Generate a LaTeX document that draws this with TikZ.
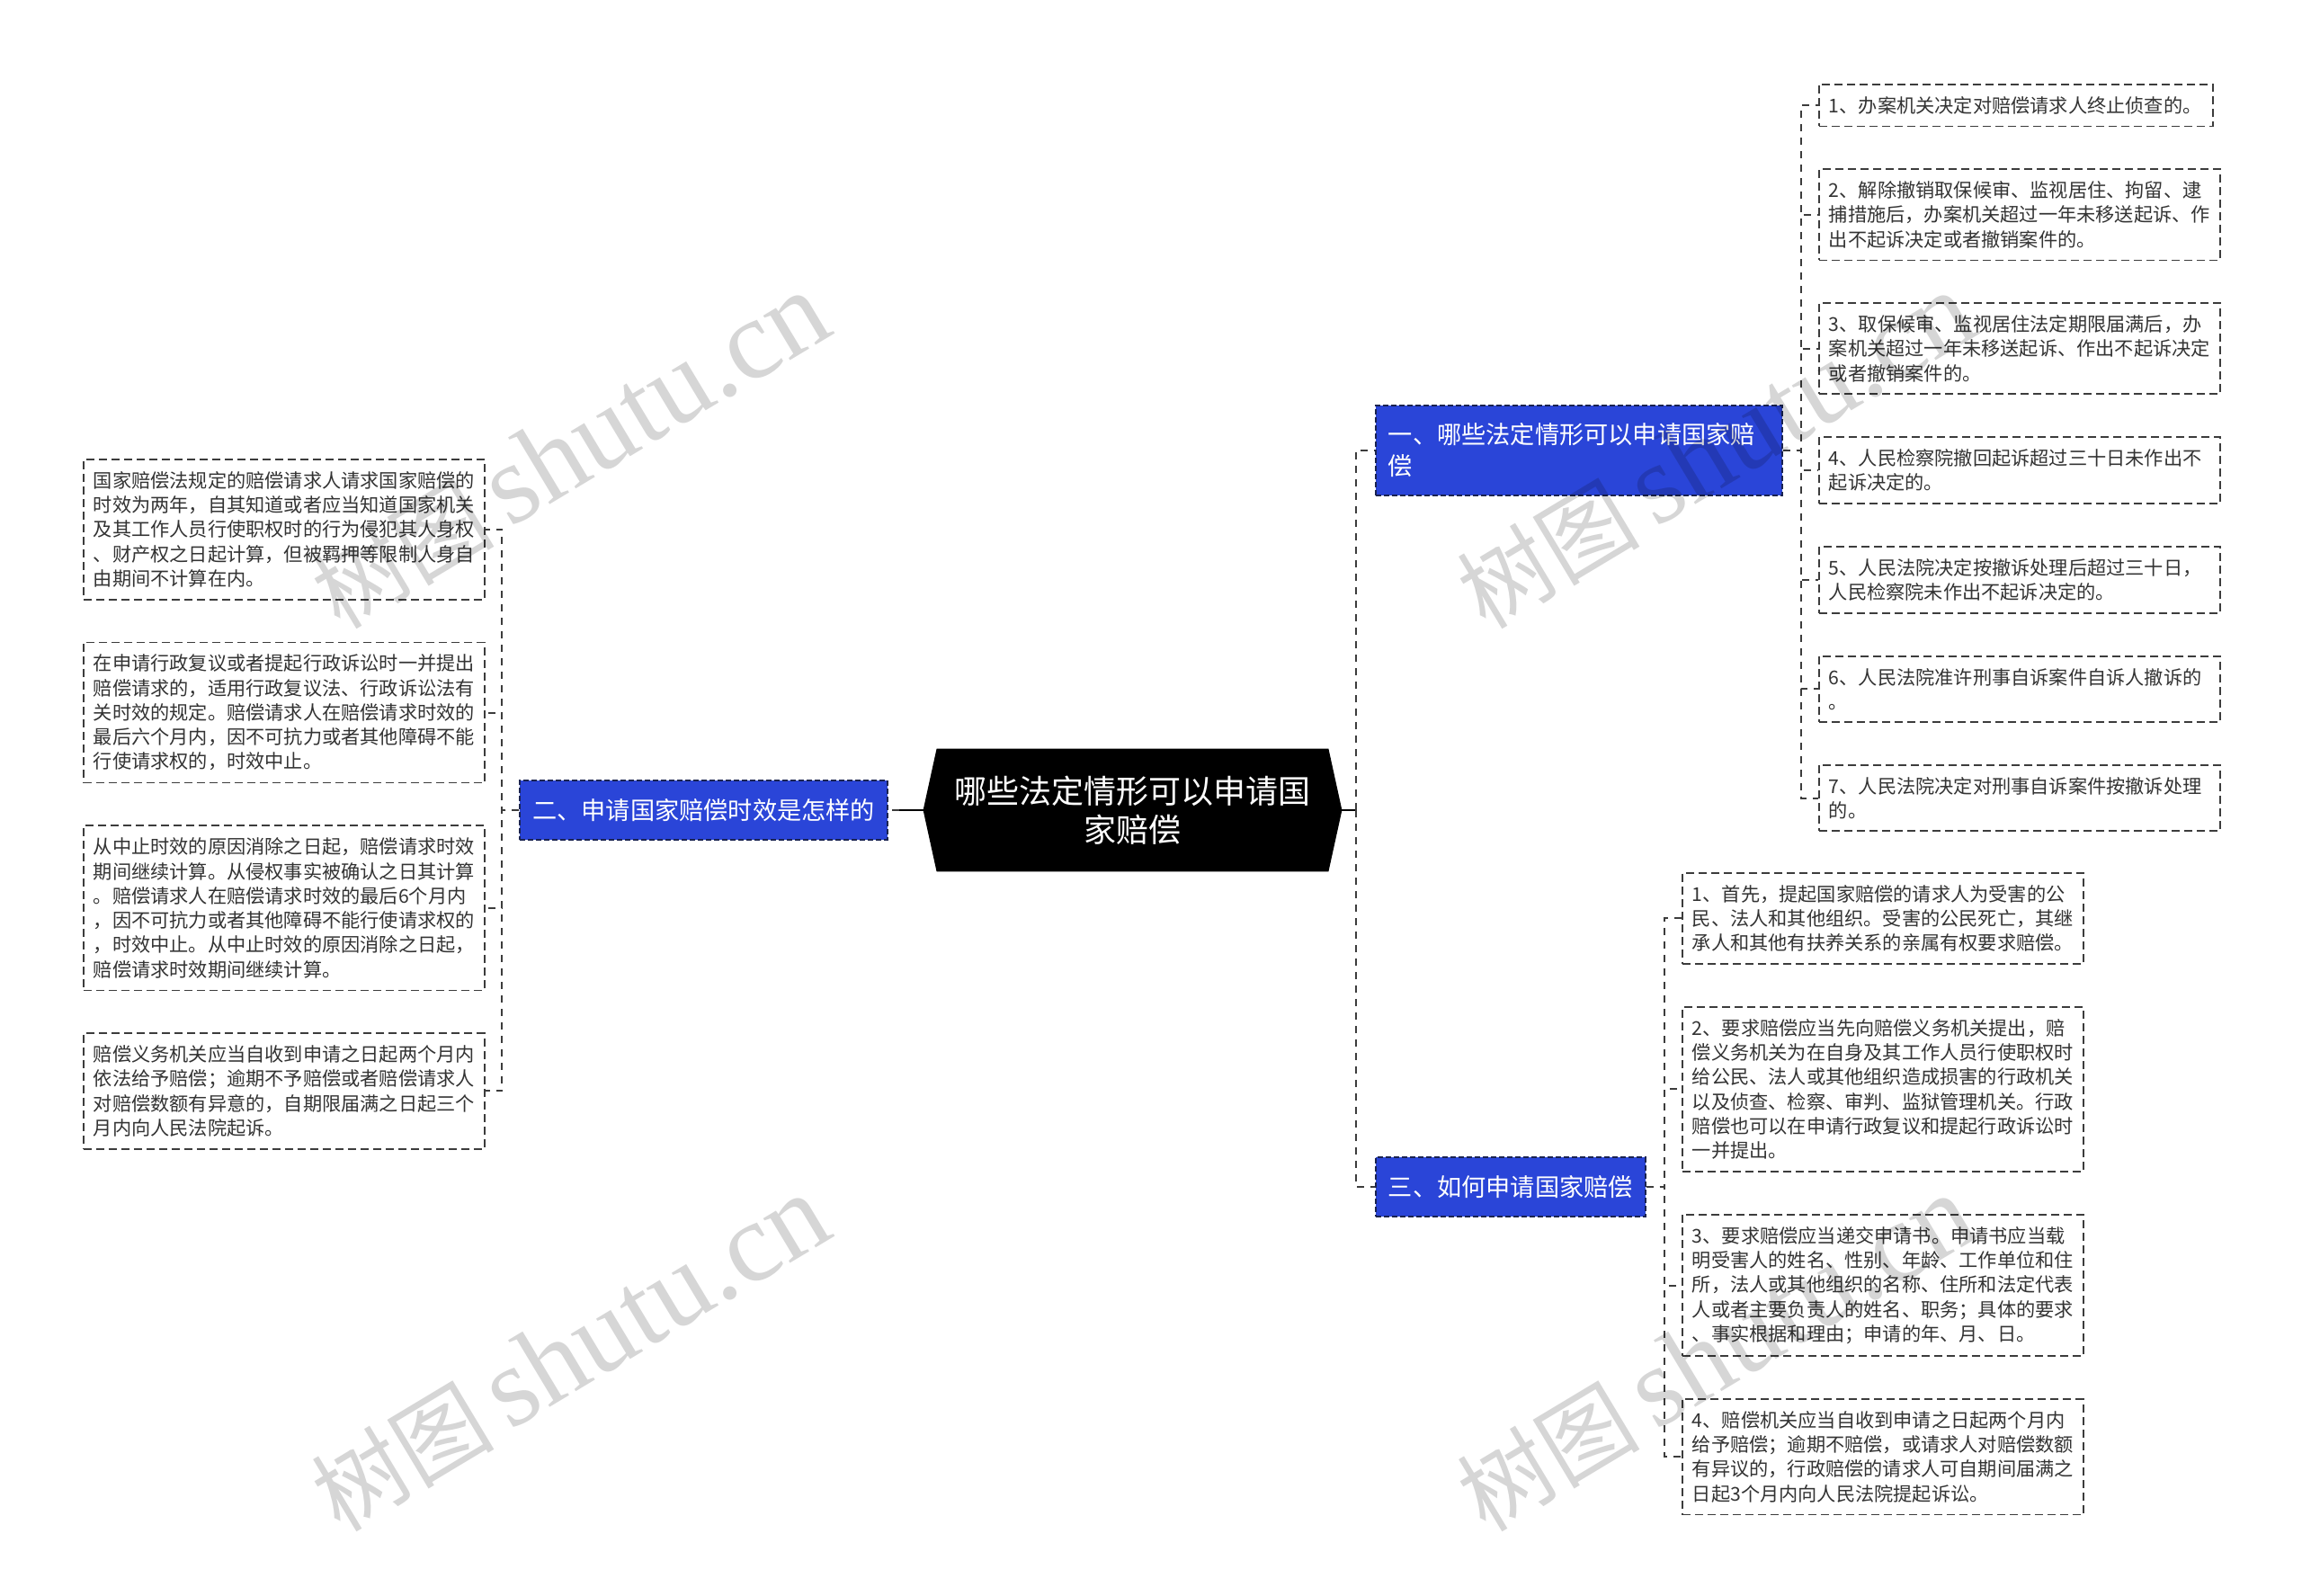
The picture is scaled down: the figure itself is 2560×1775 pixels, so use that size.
\documentclass[tikz,border=0pt]{standalone}
\usepackage{fontspec}
\setmainfont{Noto Sans CJK SC}
\newfontfamily\wmserif{Liberation Serif}
\usepackage{xcolor}
\definecolor{bnblue}{HTML}{2A45D8}
\definecolor{bnline}{HTML}{1A2350}
\definecolor{lftext}{HTML}{333333}
\definecolor{lfline}{HTML}{3C3C3C}
\usetikzlibrary{positioning,backgrounds}

\begin{document}
\begin{tikzpicture}[x=0.5pt,y=-0.5pt,
  root/.style={rectangle,minimum width=232.5pt,minimum height=68pt,inner sep=0pt,
               align=center,text=white,font=\fontsize{18pt}{21.7pt}\selectfont},
  branch/.style={rectangle,draw=bnline,fill=bnblue,dash pattern=on 3pt off 1.5pt,line width=0.9pt,
                 text=white,inner xsep=7pt,inner ysep=10pt,font=\fontsize{13.6pt}{17.5pt}\selectfont},
  leaf/.style={rectangle,draw=lfline,fill=white,dash pattern=on 4.5pt off 2.5pt,line width=0.9pt,
               text=lftext,text width=212pt,align=left,inner xsep=5.5pt,inner ysep=6.7pt,
               font=\fontsize{10.6pt}{13.65pt}\selectfont},
  link/.style={draw=lfline,line width=1pt,dash pattern=on 4pt off 3.5pt},
  trunk/.style={draw=black,line width=1.2pt},
  wmark/.style={text=black,text opacity=0.16,rotate=31,anchor=base west,inner sep=0pt},
  node distance=23pt]
\useasboundingbox (0,0) rectangle (2560,1775);

% centre
\node[root] (c) at (1259.5,901) {哪些法定情形可以申请国\\家赔偿};
\begin{scope}[on background layer]
\fill[black] ([xshift=7.5pt]c.north west) -- ([xshift=-7.5pt]c.north east) -- (c.east)
  -- ([xshift=-7.5pt]c.south east) -- ([xshift=7.5pt]c.south west) -- (c.west) -- cycle;
\end{scope}

% branches
\node[branch,anchor=west,text width=212pt,align=left] (b1) at (1529,501) {一、哪些法定情形可以申请国家赔\\偿};
\node[branch,anchor=east] (b2) at (988,901) {二、申请国家赔偿时效是怎样的};
\node[branch,anchor=west] (b3) at (1529,1320) {三、如何申请国家赔偿};

% leaves of b1
\node[leaf,anchor=north west,text width=208pt] (r1) at (2022,93) {1、办案机关决定对赔偿请求人终止侦查的。};
\node[leaf,below=of r1.south west,anchor=north west] (r2) {2、解除撤销取保候审、监视居住、拘留、逮\\捕措施后，办案机关超过一年未移送起诉、作\\出不起诉决定或者撤销案件的。};
\node[leaf,below=of r2] (r3) {3、取保候审、监视居住法定期限届满后，办\\案机关超过一年未移送起诉、作出不起诉决定\\或者撤销案件的。};
\node[leaf,below=of r3] (r4) {4、人民检察院撤回起诉超过三十日未作出不\\起诉决定的。};
\node[leaf,below=of r4] (r5) {5、人民法院决定按撤诉处理后超过三十日，\\人民检察院未作出不起诉决定的。};
\node[leaf,below=of r5] (r6) {6、人民法院准许刑事自诉案件自诉人撤诉的\\。};
\node[leaf,below=of r6] (r7) {7、人民法院决定对刑事自诉案件按撤诉处理\\的。};

% leaves of b2
\node[leaf,anchor=north west] (l1) at (92,510) {国家赔偿法规定的赔偿请求人请求国家赔偿的\\时效为两年，自其知道或者应当知道国家机关\\及其工作人员行使职权时的行为侵犯其人身权\\、财产权之日起计算，但被羁押等限制人身自\\由期间不计算在内。};
\node[leaf,below=of l1] (l2) {在申请行政复议或者提起行政诉讼时一并提出\\赔偿请求的，适用行政复议法、行政诉讼法有\\关时效的规定。赔偿请求人在赔偿请求时效的\\最后六个月内，因不可抗力或者其他障碍不能\\行使请求权的，时效中止。};
\node[leaf,below=of l2] (l3) {从中止时效的原因消除之日起，赔偿请求时效\\期间继续计算。从侵权事实被确认之日其计算\\。赔偿请求人在赔偿请求时效的最后6个月内\\，因不可抗力或者其他障碍不能行使请求权的\\，时效中止。从中止时效的原因消除之日起，\\赔偿请求时效期间继续计算。};
\node[leaf,below=of l3] (l4) {赔偿义务机关应当自收到申请之日起两个月内\\依法给予赔偿；逾期不予赔偿或者赔偿请求人\\对赔偿数额有异意的，自期限届满之日起三个\\月内向人民法院起诉。};

% leaves of b3
\node[leaf,anchor=north west] (s1) at (1870,970) {1、首先，提起国家赔偿的请求人为受害的公\\民、法人和其他组织。受害的公民死亡，其继\\承人和其他有扶养关系的亲属有权要求赔偿。};
\node[leaf,below=of s1] (s2) {2、要求赔偿应当先向赔偿义务机关提出，赔\\偿义务机关为在自身及其工作人员行使职权时\\给公民、法人或其他组织造成损害的行政机关\\以及侦查、检察、审判、监狱管理机关。行政\\赔偿也可以在申请行政复议和提起行政诉讼时\\一并提出。};
\node[leaf,below=of s2] (s3) {3、要求赔偿应当递交申请书。申请书应当载\\明受害人的姓名、性别、年龄、工作单位和住\\所，法人或其他组织的名称、住所和法定代表\\人或者主要负责人的姓名、职务；具体的要求\\、事实根据和理由；申请的年、月、日。};
\node[leaf,below=of s3] (s4) {4、赔偿机关应当自收到申请之日起两个月内\\给予赔偿；逾期不赔偿，或请求人对赔偿数额\\有异议的，行政赔偿的请求人可自期间届满之\\日起3个月内向人民法院提起诉讼。};

% connectors
\draw[trunk] (c.west) -- ++(-27,0) coordinate (cl);
\draw[link] (cl) -- (b2.east);
\draw[trunk] (c.east) -- ++(16,0) coordinate (cr);
\draw[link] (cr) |- (b1.west);
\draw[link] (cr) |- (b3.west);
\foreach \n in {r1,r2,r3,r4,r5,r6,r7}
  \draw[link] (b1.east) -- ++(20,0) |- (\n.west);
\foreach \n in {l1,l2,l3,l4}
  \draw[link] (b2.west) -- ++(-19,0) |- (\n.east);
\foreach \n in {s1,s2,s3,s4}
  \draw[link] (b3.east) -- ++(20,0) |- (\n.west);

% watermarks
\foreach \wx/\wy [count=\i] in {378/702,378/1706,1652/702,1652/1706}
  \node[wmark] (wm\i) at (\wx,\wy) {\fontsize{51pt}{51pt}\selectfont 树图\,{\wmserif\fontsize{63pt}{63pt}\selectfont shutu.cn}};
\end{tikzpicture}
\end{document}
